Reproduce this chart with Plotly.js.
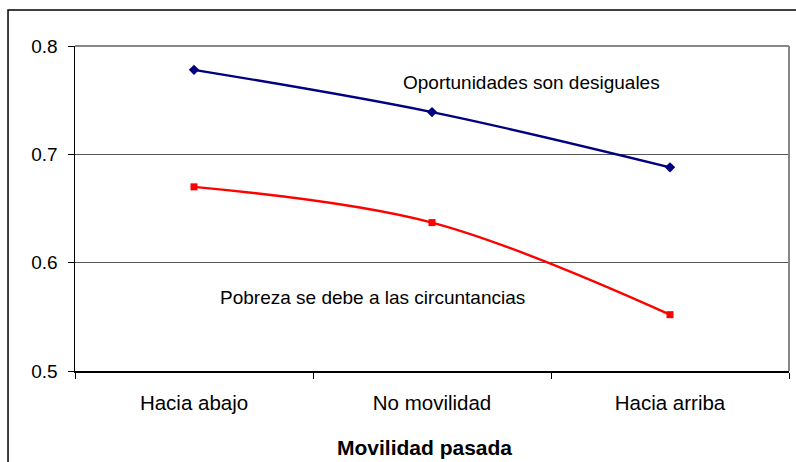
<!DOCTYPE html>
<html>
<head>
<meta charset="utf-8">
<script src="https://cdn.plot.ly/plotly-3.0.1.min.js"></script>
<style>html,body{margin:0;padding:0;background:#fff}#chart{width:796px;height:462px}</style>
</head>
<body>
<div id="chart"></div>
<script>
const categories = ["Hacia abajo", "No movilidad", "Hacia arriba"];
const oportunidades = [0.778, 0.739, 0.688];
const pobreza = [0.670, 0.637, 0.552];
const yTicks = [0.5, 0.6, 0.7, 0.8];
const yTickLabels = ["0.5", "0.6", "0.7", "0.8"];
const labelOportunidades = "Oportunidades son desiguales";
const labelPobreza = "Pobreza se debe a las circuntancias";
const xTitle = "Movilidad pasada";

const font = "Liberation Sans, Arial, sans-serif";

const traces = [
  {x: categories, y: oportunidades, type: "scatter", mode: "lines+markers",
   line: {color: "#000080", width: 2.4, shape: "spline", smoothing: 1},
   marker: {symbol: "diamond", size: 8, color: "#000080"}, cliponaxis: false},
  {x: categories, y: pobreza, type: "scatter", mode: "lines+markers",
   line: {color: "#FF0000", width: 2.4, shape: "spline", smoothing: 1},
   marker: {symbol: "square", size: 7, color: "#FF0000"}, cliponaxis: false}
];

const layout = {
  width: 796, height: 462,
  margin: {l: 75, r: 7, t: 46, b: 91},
  paper_bgcolor: "#ffffff", plot_bgcolor: "#ffffff",
  showlegend: false,
  font: {family: font, size: 19, color: "#000"},
  xaxis: {
    type: "category", tickson: "boundaries", ticks: "outside", ticklen: 6, tickcolor: "#000",
    showline: true, linecolor: "#000", linewidth: 1.5, showgrid: false, zeroline: false,
    ticklabelstandoff: 13, tickfont: {size: 20.5},
    range: [-0.5, 2.5], fixedrange: true
  },
  yaxis: {
    range: [0.5, 0.8], tickvals: yTicks, ticktext: yTickLabels, ticks: "outside", ticklen: 6,
    tickcolor: "#000", showline: true, linecolor: "#000", linewidth: 1.5,
    showgrid: true, gridcolor: "#555", gridwidth: 1, zeroline: false,
    ticklabelstandoff: 6, tickfont: {size: 19}
  },
  shapes: [
    {type: "line", xref: "paper", yref: "paper", x0: 0, x1: 1, y0: 1, y1: 1, line: {color: "#888", width: 2}},
    {type: "line", xref: "paper", yref: "paper", x0: 1, x1: 1, y0: 0, y1: 1, line: {color: "#888", width: 2}},
    {type: "rect", xref: "paper", yref: "paper", x0: -0.0938, x1: 1.02, y0: -0.32, y1: 1.1108, line: {color: "#000", width: 1.5}}
  ],
  annotations: [
    {x: 1.418, y: 0.766, xref: "x", yref: "y", text: labelOportunidades, showarrow: false, xanchor: "center", yanchor: "middle", font: {size: 19}},
    {x: 0.751, y: 0.568, xref: "x", yref: "y", text: labelPobreza, showarrow: false, xanchor: "center", yanchor: "middle", font: {size: 19}},
    {x: 0.4895, y: -0.2345, xref: "paper", yref: "paper", text: "<b>" + xTitle + "</b>", showarrow: false, xanchor: "center", yanchor: "middle", font: {size: 21}}
  ]
};

Plotly.newPlot("chart", traces, layout, {displayModeBar: false, staticPlot: true});
</script>
</body>
</html>
